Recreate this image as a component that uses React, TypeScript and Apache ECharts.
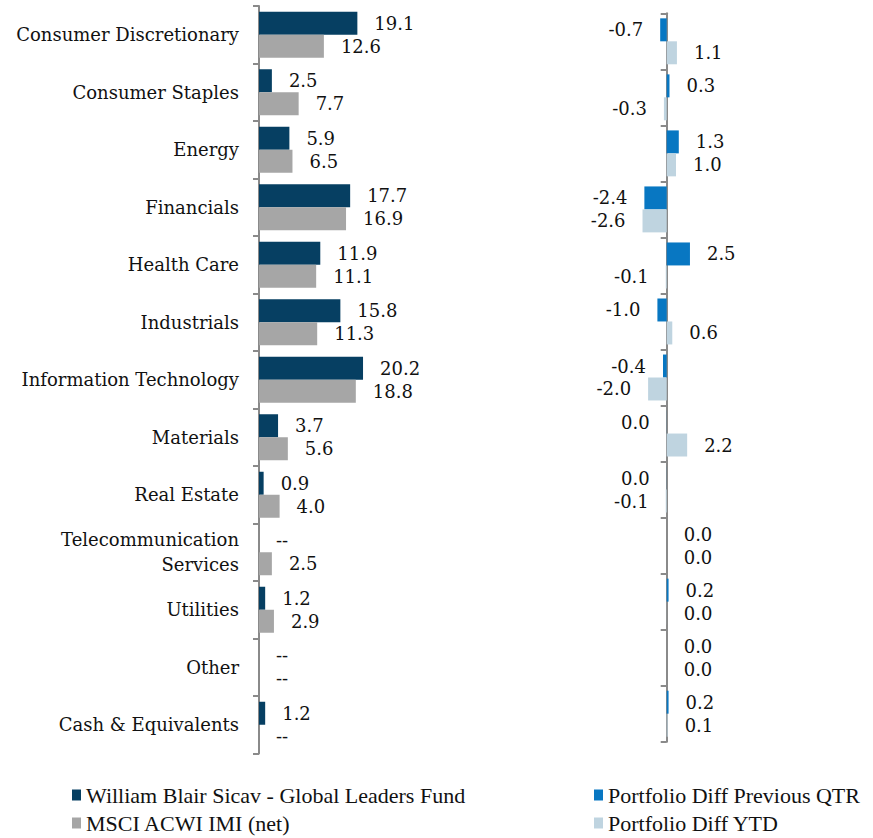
import React, { useEffect, useRef } from "react";
import * as echarts from "echarts";

const categories = [
  "Consumer Discretionary",
  "Consumer Staples",
  "Energy",
  "Financials",
  "Health Care",
  "Industrials",
  "Information Technology",
  "Materials",
  "Real Estate",
  "Telecommunication\nServices",
  "Utilities",
  "Other",
  "Cash & Equivalents",
];

const fundValues: (number | null)[] = [19.1, 2.5, 5.9, 17.7, 11.9, 15.8, 20.2, 3.7, 0.9, null, 1.2, null, 1.2];
const indexValues: (number | null)[] = [12.6, 7.7, 6.5, 16.9, 11.1, 11.3, 18.8, 5.6, 4.0, 2.5, 2.9, null, null];
const diffQtr: number[] = [-0.7, 0.3, 1.3, -2.4, 2.5, -1.0, -0.4, -0.01, -0.01, 0, 0.2, 0, 0.2];
const diffYtd: number[] = [1.1, -0.3, 1.0, -2.6, -0.1, 0.6, -2.0, 2.2, -0.1, 0, 0.01, 0, 0.1];

const seriesNames = [
  "William Blair Sicav - Global Leaders Fund",
  "MSCI ACWI IMI (net)",
  "Portfolio Diff Previous QTR",
  "Portfolio Diff YTD",
];

const COLORS = ["#063f62", "#a6a6a6", "#0877c2", "#bfd4e0"];
const FONT = "DejaVu Serif";
const LEGEND_FONT = "Liberation Serif";
const AXIS_COLOR = "#8a8a8a";

const fmt = (v: number) => (Math.abs(v) < 0.05 ? 0 : v).toFixed(1);

const weightData = (vals: (number | null)[]) =>
  vals.map((v) =>
    v === null ? { value: 0, label: { formatter: "--" } } : { value: v }
  );

const diffData = (vals: number[]) =>
  vals.map((v) => ({
    value: v,
    label: { position: v < 0 ? "left" : "right", formatter: fmt(v) },
  }));

export default function App() {
  const ref = useRef<HTMLDivElement>(null);
  useEffect(() => {
    if (!ref.current) return;
    const chart = echarts.init(ref.current, null, { renderer: "svg" });
    const labelStyle = {
      show: true,
      distance: 17,
      color: "#111",
      fontFamily: FONT,
      fontSize: 18,
    };
    const catAxisCommon = {
      type: "category",
      data: categories,
      inverse: true,
      axisLine: { show: true, lineStyle: { color: AXIS_COLOR, width: 2 } },
      axisTick: { show: true, inside: false, length: 6, lineStyle: { color: AXIS_COLOR, width: 2 } },
      splitLine: { show: false },
    };
    const legendCommon = {
      orient: "vertical",
      top: 784,
      height: 54,
      padding: 0,
      itemWidth: 9,
      itemHeight: 11,
      itemGap: 6,
      icon: "rect",
      textStyle: { fontFamily: LEGEND_FONT, fontSize: 22, color: "#111" },
    };
    chart.setOption({
      animation: false,
      backgroundColor: "#fff",
      grid: [
        { left: 259, top: 6, width: 128.75, height: 747.5 },
        { left: 620.2, top: 13.3, width: 93, height: 728.4 },
      ],
      xAxis: [
        { type: "value", gridIndex: 0, min: 0, max: 25, show: false },
        { type: "value", gridIndex: 1, min: -5, max: 5, show: false },
      ],
      yAxis: [
        {
          ...catAxisCommon,
          gridIndex: 0,
          axisLabel: {
            margin: 20,
            color: "#111",
            fontFamily: FONT,
            fontSize: 18,
            lineHeight: 25,
            align: "right",
          },
        },
        {
          ...catAxisCommon,
          gridIndex: 1,
          position: "left",
          axisLabel: { show: false },
        },
      ],
      legend: [
        { ...legendCommon, data: seriesNames.slice(0, 2), left: 72 },
        { ...legendCommon, data: seriesNames.slice(2, 4), left: 594 },
      ],
      series: [
        {
          name: seriesNames[0],
          type: "bar",
          xAxisIndex: 0,
          yAxisIndex: 0,
          data: weightData(fundValues),
          itemStyle: { color: COLORS[0] },
          barGap: "0%",
          barCategoryGap: "20%",
          label: { ...labelStyle, position: "right", formatter: (p: any) => fmt(p.value) },
        },
        {
          name: seriesNames[1],
          type: "bar",
          xAxisIndex: 0,
          yAxisIndex: 0,
          data: weightData(indexValues),
          itemStyle: { color: COLORS[1] },
          barGap: "0%",
          barCategoryGap: "20%",
          label: { ...labelStyle, position: "right", formatter: (p: any) => fmt(p.value) },
        },
        {
          name: seriesNames[2],
          type: "bar",
          xAxisIndex: 1,
          yAxisIndex: 1,
          data: diffData(diffQtr),
          itemStyle: { color: COLORS[2] },
          barGap: "0%",
          barCategoryGap: "18%",
          label: { ...labelStyle },
        },
        {
          name: seriesNames[3],
          type: "bar",
          xAxisIndex: 1,
          yAxisIndex: 1,
          data: diffData(diffYtd),
          itemStyle: { color: COLORS[3] },
          barGap: "0%",
          barCategoryGap: "18%",
          label: { ...labelStyle },
        },
      ],
    });
    return () => chart.dispose();
  }, []);
  return (
    <div
      ref={ref}
      style={{ position: "absolute", left: 0, top: 0, width: 873, height: 838 }}
    />
  );
}
